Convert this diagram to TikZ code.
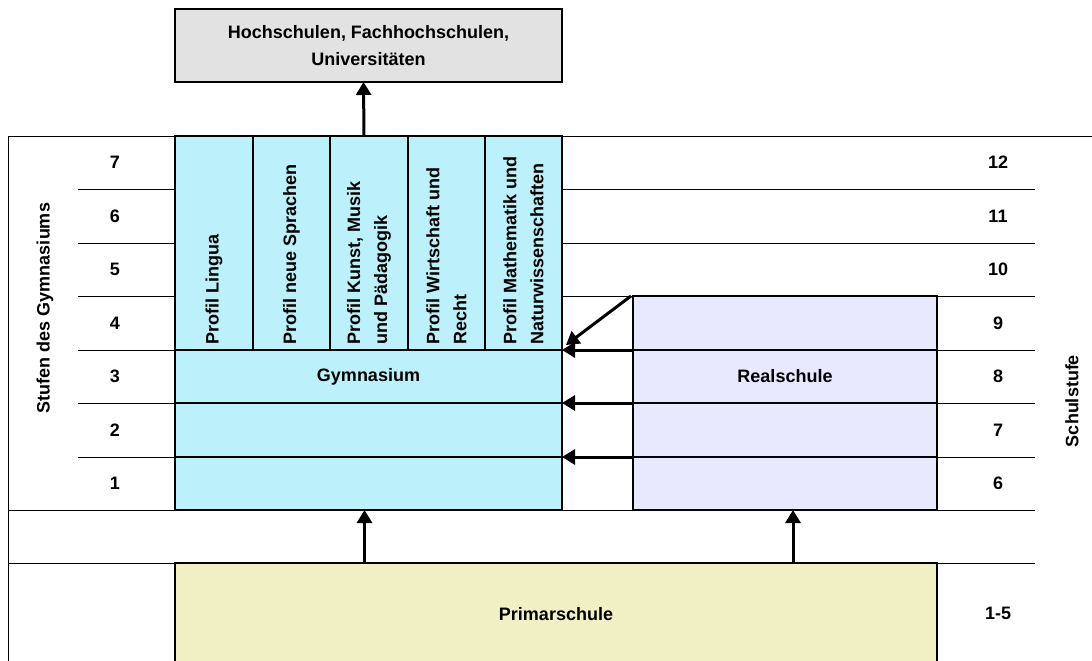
\documentclass[tikz,border=0pt]{standalone}
\usepackage{fontspec}
\setmainfont{Liberation Sans}
\usetikzlibrary{arrows.meta,calc}
\definecolor{gymc}{RGB}{188,240,250}
\definecolor{realc}{RGB}{232,232,255}
\definecolor{hochc}{RGB}{226,226,226}
\definecolor{primc}{RGB}{240,240,196}
\begin{document}
\begin{tikzpicture}[x=1pt,y=-1pt,
  font=\fontsize{18}{27}\selectfont\bfseries,
  thinline/.style={line width=1pt},
  cell/.style={draw, line width=2pt, anchor=north west, inner sep=0pt, outer sep=0pt},
  gymcell/.style={cell, fill=gymc},
  realcell/.style={cell, fill=realc},
  lbl/.style={inner sep=0pt},
  vlbl/.style={inner sep=0pt, rotate=90},
  proftext/.style={inner sep=0pt, rotate=90, anchor=west, align=left},
  arr/.style={line width=3pt, -{Triangle[width=15pt,length=13pt]}}
]
\useasboundingbox (0,0) rectangle (1092,661);

% frame and thin grid lines
\draw[thinline] (8,136) -- (1092,136);
\draw[thinline] (8,136) -- (8,665);
\foreach \y in {189,243,296,350,403,457}{
  \draw[thinline] (78,\y) -- (175,\y);
}
\foreach \y in {189,243,296}{
  \draw[thinline] (562,\y) -- (1035,\y);
}
\foreach \y in {350,403,457}{
  \draw[thinline] (562,\y) -- (633,\y);
  \draw[thinline] (937,\y) -- (1035,\y);
}
\draw[thinline] (8,510) -- (1035,510);
\draw[thinline] (8,563) -- (1035,563);

% Hochschulen
\node[cell, fill=hochc, minimum width=387pt, minimum height=73pt] (hoch) at (175,9) {};
\node[lbl, align=center] (hochtxt) at (hoch.center) {Hochschulen, Fachhochschulen,\\Universitäten};

% Gymnasium profile cells
\node[gymcell, minimum width=78pt, minimum height=214pt] (gymP1) at (175,136) {};
\node[gymcell, minimum width=77pt, minimum height=214pt] (gymP2) at (253,136) {};
\node[gymcell, minimum width=78pt, minimum height=214pt] (gymP3) at (330,136) {};
\node[gymcell, minimum width=77pt, minimum height=214pt] (gymP4) at (408,136) {};
\node[gymcell, minimum width=77pt, minimum height=214pt] (gymP5) at (485,136) {};
\node[proftext] (t1) at (214,345) {Profil Lingua};
\node[proftext] (t2) at (291.5,345) {Profil neue Sprachen};
\node[proftext] (t3) at (369,345) {Profil Kunst, Musik\\und Pädagogik};
\node[proftext] (t4) at (446.5,345) {Profil Wirtschaft und\\Recht};
\node[proftext] (t5) at (523.5,345) {Profil Mathematik und\\Naturwissenschaften};

% Gymnasium rows
\node[gymcell, minimum width=387pt, minimum height=53pt] (gymR3) at (175,350) {};
\node[gymcell, minimum width=387pt, minimum height=54pt] (gymR2) at (175,403) {};
\node[gymcell, minimum width=387pt, minimum height=53pt] (gymR1) at (175,457) {};
\node[lbl] (gymtxt) at (gymR3.center) {Gymnasium};

% Realschule rows
\node[realcell, minimum width=304pt, minimum height=54pt] (real4) at (633,296) {};
\node[realcell, minimum width=304pt, minimum height=53pt] (real3) at (633,350) {};
\node[realcell, minimum width=304pt, minimum height=54pt] (real2) at (633,403) {};
\node[realcell, minimum width=304pt, minimum height=53pt] (real1) at (633,457) {};
\node[lbl] (realtxt) at (real3.center) {Realschule};

% Primarschule
\node[cell, draw=none, fill=primc, minimum width=762pt, minimum height=102pt] (prim) at (175,563) {};
\draw[line width=2pt] (prim.south west) -- (prim.north west) -- (prim.north east) -- (prim.south east);
\node[lbl] (primtxt) at (prim.center) {Primarschule};

% left numbers
\foreach \n/\y in {7/162.5,6/216,5/269.5,4/323,3/376.5,2/430,1/483.5}{
  \node[lbl] (L\n) at (115,\y) {\n};
}
% right numbers
\foreach \n/\y in {12/162.5,11/216,10/269.5,9/323,8/376.5,7/430,6/483.5}{
  \node[lbl] (R\n) at (998,\y) {\n};
}
\node[lbl] (R15) at (998,613) {1-5};

% axis labels
\node[vlbl] (stufen) at (45,308) {Stufen des Gymnasiums};
\node[vlbl] (schulstufe) at (1072,401) {Schulstufe};

% arrows
\draw[arr] ([xshift=-5pt]gymP3.north) -- ([xshift=-5pt]hoch.south);
\draw[arr] ([xshift=-4pt]gymR1.south |- prim.north) -- ([xshift=-4pt]gymR1.south);
\draw[arr] ([xshift=8pt]real1.south |- prim.north) -- ([xshift=8pt]real1.south);
\draw[arr] (real3.north west) -- (gymR3.north east);
\draw[arr] (real2.north west) -- (gymR2.north east);
\draw[arr] (real1.north west) -- (gymR1.north east);
\draw[arr] ([xshift=-2pt]real4.north west) -- ([xshift=4pt,yshift=5pt]gymR3.north east);
\end{tikzpicture}
\end{document}
